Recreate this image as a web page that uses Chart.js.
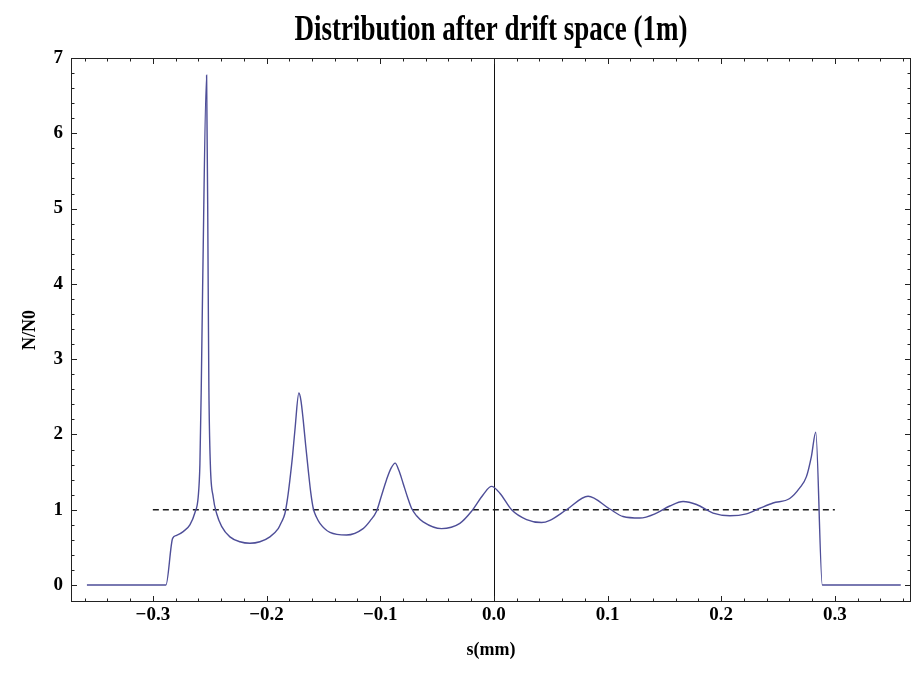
<!DOCTYPE html>
<html><head><meta charset="utf-8">
<script src="https://cdn.jsdelivr.net/npm/chart.js@4.4.1/dist/chart.umd.min.js"></script>
<style>html,body{margin:0;padding:0;background:#fff;}#wrap{width:914px;height:674px;}</style>
</head><body><div id="wrap"><canvas id="c" width="914" height="674"></canvas></div>
<script>
// ---- data ----
const sValues = [-0.358,-0.2885,-0.2826,-0.2791,-0.2733,-0.2674,-0.2630,-0.2601,-0.2586,-0.2574,-0.2562,-0.2527,-0.2513,-0.2507,-0.2494,-0.2469,-0.2439,-0.2395,-0.2322,-0.2234,-0.2146,-0.2058,-0.1970,-0.1897,-0.1870,-0.1838,-0.1815,-0.1794,-0.1772,-0.1750,-0.1715,-0.1697,-0.1677,-0.1655,-0.1633,-0.1610,-0.1589,-0.1560,-0.1530,-0.1442,-0.1296,-0.1150,-0.1090,-0.1032,-0.0990,-0.0944,-0.0905,-0.0868,-0.0835,-0.0798,-0.0760,-0.0724,-0.0680,-0.0622,-0.0460,-0.0299,-0.0196,-0.0094,-0.0020,0.0053,0.0156,0.0288,0.0420,0.0493,0.0639,0.0829,0.1020,0.1137,0.1284,0.1431,0.1548,0.1665,0.1783,0.1929,0.2076,0.2222,0.2340,0.2456,0.2603,0.2691,0.2750,0.2794,0.2832,0.2890,0.358];
const nValues = [0,0,0.62,0.66,0.71,0.80,0.96,1.17,1.6,2.62,3.95,6.77,3.95,2.62,1.6,1.17,0.95,0.78,0.64,0.575,0.555,0.575,0.64,0.75,0.83,0.95,1.15,1.40,1.70,2.06,2.55,2.45,2.19,1.85,1.53,1.22,1.02,0.90,0.82,0.70,0.665,0.75,0.85,0.98,1.18,1.40,1.55,1.62,1.52,1.35,1.17,1.02,0.92,0.84,0.75,0.82,0.98,1.20,1.31,1.22,1.0,0.87,0.83,0.86,1.0,1.18,1.01,0.91,0.89,0.955,1.05,1.11,1.07,0.955,0.92,0.945,1.02,1.09,1.15,1.29,1.44,1.71,2.03,0,0];
const refS = [-0.3, 0.3];
const refN = [1, 1];
const xTickValues = [-0.3,-0.2,-0.1,0.0,0.1,0.2,0.3];
const yTickValues = [0,1,2,3,4,5,6,7];
const titleText = 'Distribution after drift space (1m)';
const xLabel = 's(mm)';
const yLabel = 'N/N0';

const SERIF = "'Liberation Serif','Times New Roman',serif";
const TITLE_PAD_TOP = 15;

function fmtX(v){ if (Math.abs(v) < 1e-9) v = 0; return v.toFixed(1).replace('-', '\u2212'); }

const framePlugin = {
  id: 'framePlugin',
  afterLayout(chart){
    const tb = chart.titleBlock;
    if (tb){
      tb.left = chart.chartArea.left;
      tb.right = chart.chartArea.right;
      if (!tb._stretched){
        const orig = tb.draw.bind(tb);
        tb.draw = function(){
          const ctx = chart.ctx;
          const cy = this.top + TITLE_PAD_TOP + 16.2;
          ctx.save();
          ctx.translate(0, cy); ctx.scale(1, 1.3); ctx.translate(0, -cy);
          orig();
          ctx.restore();
        };
        tb._stretched = true;
      }
    }
  },
  beforeDatasetsDraw(chart){
    const {ctx, chartArea:a, scales:{x}} = chart;
    const px = Math.round(x.getPixelForValue(0)) + 0.5;
    ctx.save();
    ctx.strokeStyle = '#111'; ctx.lineWidth = 1;
    ctx.beginPath(); ctx.moveTo(px, a.top); ctx.lineTo(px, a.bottom); ctx.stroke();
    ctx.restore();
  },
  afterDraw(chart){
    const {ctx, chartArea:a, scales:{x, y}} = chart;
    ctx.save();
    ctx.strokeStyle = '#222'; ctx.lineWidth = 1;
    ctx.strokeRect(a.left + 0.5, a.top + 0.5, a.right - a.left - 1, a.bottom - a.top - 1);
    ctx.beginPath();
    for (let i = -18; i <= 18; i++){
      const v = i * 0.02;
      if (v < x.min || v > x.max) continue;
      const major = (i % 5 === 0);
      const len = major ? 6 : 3.5;
      const p = Math.round(x.getPixelForValue(v)) + 0.5;
      ctx.moveTo(p, a.bottom); ctx.lineTo(p, a.bottom - len);
      ctx.moveTo(p, a.top); ctx.lineTo(p, a.top + len);
    }
    for (let i = 0; i <= 35; i++){
      const v = i * 0.2;
      if (v < y.min || v > y.max + 1e-9) continue;
      const major = (i % 5 === 0);
      const len = major ? 6 : 3.5;
      const p = Math.round(y.getPixelForValue(v)) + 0.5;
      ctx.moveTo(a.left, p); ctx.lineTo(a.left + len, p);
      ctx.moveTo(a.right, p); ctx.lineTo(a.right - len, p);
    }
    ctx.stroke();
    ctx.restore();
  }
};

new Chart(document.getElementById('c'), {
  type: 'scatter',
  data: {
    datasets: [
      {
        data: sValues.map((s, i) => ({x: s, y: nValues[i]})),
        showLine: true,
        borderColor: 'rgb(78,78,152)',
        borderWidth: 1.4,
        pointRadius: 0,
        cubicInterpolationMode: 'monotone',
        fill: false
      },
      {
        data: refS.map((s, i) => ({x: s, y: refN[i]})),
        showLine: true,
        borderColor: '#1a1a1a',
        borderWidth: 1.3,
        borderDash: [6, 4],
        pointRadius: 0,
        fill: false
      }
    ]
  },
  options: {
    responsive: false,
    animation: false,
    devicePixelRatio: 1,
    layout: {padding: {top: 0, right: 3, left: 0, bottom: 0}},
    plugins: {
      legend: {display: false},
      tooltip: {enabled: false},
      title: {
        display: true,
        text: titleText,
        color: '#000',
        font: {family: SERIF, size: 27, weight: 'bold', lineHeight: 1.2},
        padding: {top: TITLE_PAD_TOP, bottom: 58 - TITLE_PAD_TOP - 32.4}
      }
    },
    scales: {
      x: {
        type: 'linear',
        min: -0.372, max: 0.367,
        grid: {display: false, drawTicks: false},
        border: {display: false},
        afterBuildTicks: s => { s.ticks = xTickValues.map(v => ({value: v})); },
        afterFit: s => { s.height = 72; },
        ticks: {
          padding: 2, color: '#000', maxRotation: 0, autoSkip: false,
          font: {family: SERIF, size: 19, weight: 'bold'},
          callback: v => fmtX(v)
        },
        title: {
          display: true, text: xLabel, color: '#000',
          font: {family: SERIF, size: 18, weight: 'bold'},
          padding: {top: 0, bottom: 13}
        }
      },
      y: {
        type: 'linear',
        min: -0.225, max: 7.0,
        grid: {display: false, drawTicks: false},
        border: {display: false},
        afterBuildTicks: s => { s.ticks = yTickValues.map(v => ({value: v})); },
        afterFit: s => { s.width = 71; },
        ticks: {
          padding: 8, color: '#000', autoSkip: false,
          font: {family: SERIF, size: 19, weight: 'bold'},
          callback: v => String(v)
        },
        title: {
          display: true, text: yLabel, color: '#000',
          font: {family: SERIF, size: 18, weight: 'bold'},
          padding: {top: 20, bottom: 0}
        }
      }
    }
  },
  plugins: [framePlugin]
});
</script>
</body></html>
